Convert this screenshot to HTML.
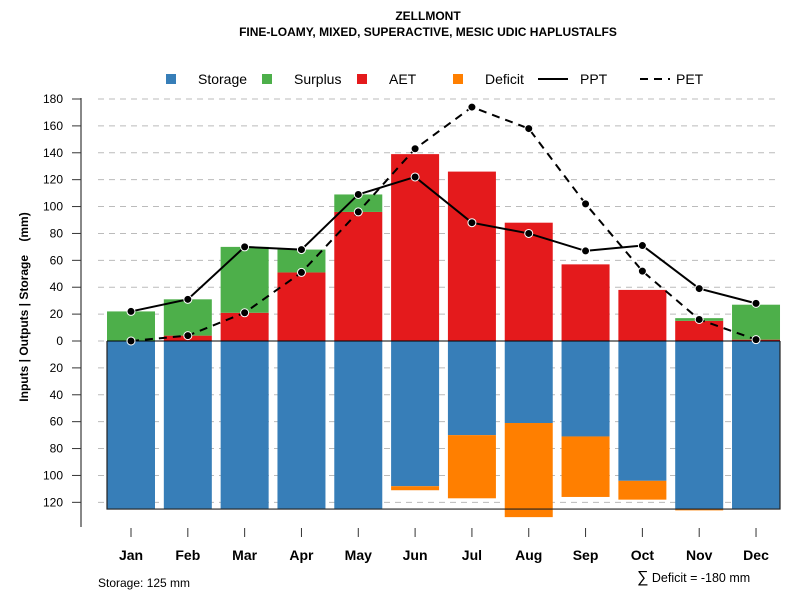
<!DOCTYPE html>
<html><head><meta charset="utf-8"><style>
body{margin:0;background:#fff}
svg{display:block;font-family:"Liberation Sans",Arial,sans-serif}
</style></head><body>
<svg id="chart" width="800" height="600">
<g>
<text x="428" y="20" text-anchor="middle" font-size="12" font-weight="bold">ZELLMONT</text>
<text x="428" y="36" text-anchor="middle" font-size="12" font-weight="bold">FINE-LOAMY, MIXED, SUPERACTIVE, MESIC UDIC HAPLUSTALFS</text>
</g>
<g font-size="14">
<g><rect x="166" y="74" width="10" height="10" fill="#377EB8"/><text x="198" y="84">Storage</text></g>
<g><rect x="262" y="74" width="10" height="10" fill="#4DAF4A"/><text x="294" y="84">Surplus</text></g>
<g><rect x="357" y="74" width="10" height="10" fill="#E41A1C"/><text x="389" y="84">AET</text></g>
<g><rect x="453" y="74" width="10" height="10" fill="#FF7F00"/><text x="485" y="84">Deficit</text></g>
<g><line x1="538" y1="79" x2="568" y2="79" stroke="#000" stroke-width="2"/><text x="580" y="84">PPT</text></g>
<g><line x1="640" y1="79" x2="670" y2="79" stroke="#000" stroke-width="2" stroke-dasharray="8,6"/><text x="676" y="84">PET</text></g>
</g>
<text transform="translate(28,307) rotate(-90)" text-anchor="middle" font-size="12" font-weight="bold" xml:space="preserve">Inputs | Outputs | Storage    (mm)</text>
<g id="grid"></g><g id="bars"></g><g id="axes"></g><g id="lines"></g>
<text x="98" y="587" font-size="12">Storage: 125 mm</text>
<text x="637" y="582" font-size="12.5"><tspan font-size="16">∑</tspan> Deficit = -180 mm</text>
</svg>
<script>
const months=["Jan","Feb","Mar","Apr","May","Jun","Jul","Aug","Sep","Oct","Nov","Dec"];
const aet=[0,4,21,51,96,139,126,88,57,38,15,1];
const surplus=[22,27,49,17,13,0,0,0,0,0,2,26];
const storage=[125,125,125,125,125,108,70,61,71,104,125,125];
const deficit=[0,0,0,0,0,3,47,70,45,14,1,0];
const ppt=[22,31,70,68,109,122,88,80,67,71,39,28];
const pet=[0,4,21,51,96,143,174,158,102,52,16,1];
const yTicksUp=[0,20,40,60,80,100,120,140,160,180];
const yTicksDown=[20,40,60,80,100,120];
const storageMax=125;
const NS="http://www.w3.org/2000/svg";
const y0=341,ppu=242/180;
function y(v){return y0-v*ppu;}
function xc(i){return 131+i*56.82;}
const bw=48;
function mk(tag,attrs,parent){const e=document.createElementNS(NS,tag);for(const k in attrs)e.setAttribute(k,attrs[k]);document.getElementById(parent).appendChild(e);return e;}
yTicksUp.forEach(v=>{const l=mk('line',{x1:98,x2:780,y1:y(v),y2:y(v),stroke:'#bbb','stroke-dasharray':'6,5'},'grid');

});
yTicksDown.forEach(v=>{const l=mk('line',{x1:98,x2:780,y1:y(-v),y2:y(-v),stroke:'#bbb','stroke-dasharray':'6,5'},'grid');

});
months.forEach((m,i)=>{
 const x=xc(i)-bw/2;
 let r=mk('rect',{x:x,y:y(0),width:bw,height:y(-storage[i])-y(0),fill:'#377EB8'},'bars');
 
 
 if(deficit[i]>0){r=mk('rect',{x:x,y:y(-storage[i]),width:bw,height:deficit[i]*ppu,fill:'#FF7F00'},'bars');
 
 }
 if(aet[i]>0){r=mk('rect',{x:x,y:y(aet[i]),width:bw,height:aet[i]*ppu,fill:'#E41A1C'},'bars');
 
 }
 if(surplus[i]>0){r=mk('rect',{x:x,y:y(aet[i]+surplus[i]),width:bw,height:surplus[i]*ppu,fill:'#4DAF4A'},'bars');
 
 }
});
let a=mk('line',{x1:81,x2:81,y1:98,y2:527,stroke:'#888','stroke-width':2},'axes');


yTicksUp.concat(yTicksDown.map(v=>-v)).forEach(v=>{
 let t=mk('line',{x1:72,x2:81,y1:y(v),y2:y(v),stroke:'#333'},'axes');
 
 
 let tx=mk('text',{x:63,y:y(v)+4,'text-anchor':'end','font-size':12},'axes');tx.textContent=Math.abs(v);
 
 
});
a=mk('line',{x1:107,x2:780,y1:y0,y2:y0,stroke:'#000','stroke-width':1},'axes');


a=mk('polyline',{points:`107,${y(0)} 107,${y(-storageMax)} 780,${y(-storageMax)} 780,${y(0)}`,fill:'none',stroke:'#222','stroke-width':1.2},'axes');


months.forEach((m,i)=>{
 let t=mk('line',{x1:xc(i),x2:xc(i),y1:528,y2:537,stroke:'#333'},'axes');
 
 
 let tx=mk('text',{x:xc(i),y:560,'text-anchor':'middle','font-size':14,'font-weight':'bold'},'axes');tx.textContent=m;
 
 
});
function series(vals,name,dash){
 const pl=mk('polyline',{points:vals.map((v,i)=>xc(i)+','+y(v)).join(' '),fill:'none',stroke:'#000','stroke-width':2,'stroke-dasharray':dash},'lines');
 
 
 vals.forEach((v,i)=>{const c=mk('circle',{cx:xc(i),cy:y(v),r:4,fill:'#000',stroke:'#fff','stroke-width':1},'lines');
 
 });
}
series(pet,'pet','8,6');
series(ppt,'ppt','none');
</script>
</body></html>
